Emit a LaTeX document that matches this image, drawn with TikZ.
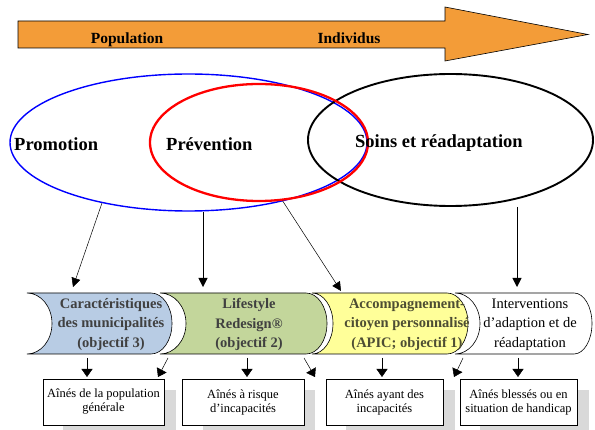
\documentclass[tikz,border=0pt]{standalone}
\usepackage{fontspec}
\setmainfont{Liberation Serif}
\usetikzlibrary{shapes.geometric,arrows.meta}

\definecolor{arrorange}{RGB}{243,156,56}
\definecolor{chblue}{RGB}{184,204,228}
\definecolor{chgreen}{RGB}{195,214,155}
\definecolor{chyellow}{RGB}{255,255,153}
\definecolor{chtext}{RGB}{64,64,64}
\definecolor{chtextb}{RGB}{77,77,51}
\definecolor{shadowgray}{RGB}{217,217,217}

\tikzset{
  toplabel/.style={font=\bfseries\fontsize{15.5}{18}\selectfont, inner sep=0pt, anchor=base},
  circlabel/.style={font=\bfseries\fontsize{18.5}{22}\selectfont, inner sep=0pt, anchor=base west},
  chevtext/.style={font=\bfseries\fontsize{14.5}{19.5}\selectfont, text=chtext, align=center, inner sep=0pt},
  aine/.style={draw, line width=0.8pt, fill=white, minimum height=46pt, align=center,
    font=\fontsize{12.5}{14}\selectfont, inner sep=0pt},
  bigtip/.style={-{Triangle[length=9pt,width=9pt]}, line width=0.5pt},
  smalltip/.style={-{Triangle[length=8pt,width=11pt]}, line width=0.5pt},
}

\begin{document}
\begin{tikzpicture}[x=1pt,y=-1pt]
  \useasboundingbox (0,0) rectangle (595,430);

  % population -> individus
  \draw[fill=arrorange, line width=0.6pt] (18,21) -- (445,21) -- (445,7) -- (588,34.5)
    -- (445,61) -- (445,48) -- (18,48) -- cycle;
  \node[toplabel] (pop) at (127,43.5) {Population};
  \node[toplabel] (ind) at (349,43.5) {Individus};

  % the three circles
  \node[ellipse, draw=blue, line width=1.4pt, minimum width=357pt, minimum height=137pt] (promo) at (188.5,142.5) {};
  \node[ellipse, draw=black, line width=1.9pt, minimum width=285pt, minimum height=132pt] (soins) at (450.5,140) {};
  \node[ellipse, draw=red, line width=2.3pt, minimum width=218pt, minimum height=117pt] (prev) at (259,142.5) {};

  \node[circlabel] (lpromo) at (14,151) {Promotion};
  \node[circlabel] (lprev) at (166,151) {Prévention};
  \node[circlabel] (lsoins) at (355,148) {Soins et réadaptation};

  % chevrons
  \foreach \xa/\ca/\xb/\cb/\col in {27/25/151/21/chblue, 160/26/306/21/chgreen,
      312/21/447/21/chyellow, 455/25/574/18/white}
    \draw[fill=\col, line width=0.6pt] (\xa,293) -- (\xb,293)
      arc[start angle=-90, end angle=90, x radius=\cb, y radius=30.5]
      -- (\xa,354) arc[start angle=90, end angle=-90, x radius=\ca, y radius=30.5] -- cycle;

  \node[chevtext] (ch1) at (111,324.5) {Caractéristiques\\des municipalités\\(objectif 3)};
  \node[chevtext] (ch2) at (249,324.5) {Lifestyle\\Redesign®\\(objectif 2)};
  \node[chevtext, text=chtextb] (ch3) at (407,324.5) {Accompagnement-\\citoyen personnalisé\\(APIC; objectif 1)};
  \node[chevtext, font=\fontsize{14.5}{19.5}\selectfont, text=black] (ch4) at (530,324.5) {Interventions\\d’adaption et de\\réadaptation};

  % target groups
  \fill[shadowgray] (63,390) rectangle (176,430);
  \fill[shadowgray] (203,390) rectangle (315,430);
  \fill[shadowgray] (346,390) rectangle (455,430);
  \fill[shadowgray] (480,390) rectangle (589,430);

  \node[aine, minimum width=121pt] (b1) at (103.5,402) {Aînés de la population\\générale};
  \node[aine, minimum width=122pt] (b2) at (243,402) {Aînés à risque\\d’incapacités};
  \node[aine, minimum width=117pt] (b3) at (384.5,402) {Aînés ayant des\\incapacités};
  \node[aine, minimum width=117pt] (b4) at (518.5,402) {Aînés blessés ou en\\situation de handicap};

  % circles -> chevrons
  \coordinate (t1) at (73,287);
  \coordinate (t2) at (203,287);
  \coordinate (t3) at (341,291);
  \coordinate (t4) at (517,287);
  \draw[bigtip] (promo.215) -- (t1);
  \draw[bigtip] (t2 |- promo.south) -- (t2);
  \draw[bigtip] (prev.292) -- (t3);
  \draw[bigtip] (t4 |- soins.south) -- (t4);

  % chevrons -> groups
  \foreach \i/\xa/\xb in {1/87/87, 2/168/158, 3/247/247, 4/304/315, 5/382/382, 6/463/454, 7/518/518} {
    \coordinate (s\i) at (\xa,358);
    \coordinate (e\i) at (\xb,377);
    \draw[smalltip] (s\i) -- (e\i);
  }
\end{tikzpicture}
\end{document}
